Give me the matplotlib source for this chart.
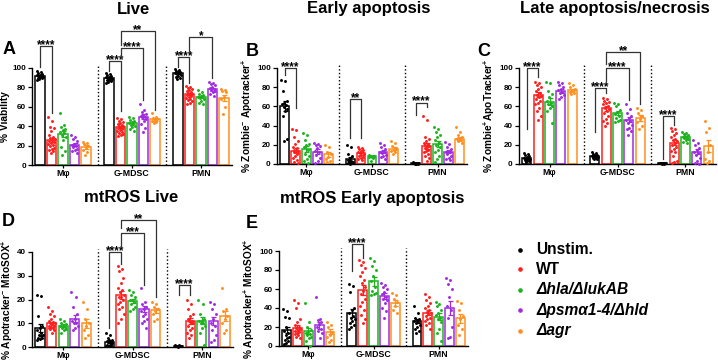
import numpy as np
import matplotlib
matplotlib.use('Agg')
import matplotlib.pyplot as plt
from matplotlib.lines import Line2D
from matplotlib.transforms import offset_copy

plt.rcParams['font.family'] = ['Liberation Sans', 'DejaVu Sans']
plt.rcParams['font.weight'] = 'bold'
plt.rcParams['mathtext.fontset'] = 'custom'
plt.rcParams['mathtext.rm'] = 'Liberation Sans:bold'
plt.rcParams['mathtext.it'] = 'Liberation Sans:bold:italic'
plt.rcParams['mathtext.bf'] = 'Liberation Sans:bold'
plt.rcParams['mathtext.default'] = 'rm'

groups = ['Mφ', 'G-MDSC', 'PMN']
conditions = ['Unstim.', 'WT', 'Δhla/ΔlukAB', 'Δpsmα1-4/Δhld', 'Δagr']
colors = ['#000000', '#FF1F1F', '#1DB31D', '#A12BE0', '#FF8F1F']

# ---------------- Panel A: Live ----------------
live_means = [[92, 26, 32, 21, 18.5], [90, 39, 43.5, 50, 47], [95, 73, 70, 78, 69]]
live_pts = [
    [[97, 96, 95, 94, 93, 93, 92, 92, 91, 91, 90, 90, 89, 88],
     [49, 45, 39, 38, 35, 31, 29, 28, 27, 26, 25, 24, 23, 22, 21, 20, 18, 17, 15, 14, 12],
     [54, 41, 39, 37, 36, 34, 33, 31, 29, 26, 19, 14, 10],
     [31, 29, 27, 25, 22, 21, 20, 19, 17, 15, 14, 12],
     [24, 23, 22, 20, 18, 15, 13, 10]],
    [[95, 94, 93, 92, 91, 91, 90, 90, 89, 88, 88, 87, 86, 85],
     [48, 47, 45, 44, 43, 42, 41, 40, 40, 39, 38, 37, 36, 35, 34, 33, 32, 31, 30],
     [50, 48, 46, 45, 44, 43, 42, 41, 40, 39, 37, 35],
     [63, 57, 55, 53, 52, 51, 50, 49, 47, 45, 42, 38, 34],
     [54, 50, 48, 47, 46, 45, 44, 43]],
    [[99, 98, 97, 96, 96, 95, 95, 94, 93, 92, 91, 90, 89],
     [81, 80, 79, 78, 77, 76, 75, 74, 73, 73, 72, 71, 70, 69, 68, 67, 66, 64, 63],
     [77, 75, 73, 72, 71, 70, 70, 69, 68, 66, 64, 63],
     [86, 85, 83, 82, 80, 79, 78, 77, 76, 75, 73, 71],
     [78, 77, 76, 75, 70, 68, 60, 53]],
]
live_sig = [(0, 0, 1, 123, 101, 54, '****'), (1, 0, 1, 107, 97, 56, '****'),
            (1, 1, 3, 121, 110, 67, '****'), (1, 1, 4, 138, 124, 57, '**'),
            (2, 0, 1, 111, 101, 85, '****'), (2, 1, 3, 132, 116, 90, '*')]

# ---------------- Panel B: Early apoptosis ----------------
early_means = [[60, 14, 16, 13, 10], [5, 11, 8, 13, 16], [1, 19, 21, 13, 26]]
early_pts = [
    [[87, 86, 76, 66, 64, 63, 61, 59, 57, 55, 50, 26, 24],
     [36, 35, 28, 24, 21, 18, 17, 15, 14, 13, 12, 10, 8, 6, 4, 2, 1],
     [32, 30, 25, 21, 20, 18, 15, 10, 8, 5, 3, 1],
     [22, 21, 20, 19, 17, 14, 12, 9, 6, 3, 1],
     [20, 18, 12, 10, 7, 5, 3, 2]],
    [[20, 18, 10, 8, 6, 4, 3, 2, 2, 1, 1, 1, 0.5],
     [18, 17, 16, 15, 14, 13, 12, 11, 10, 9, 8, 7, 6, 5, 4],
     [9, 8.5, 8, 8, 7.5, 7, 6, 3],
     [22, 20, 18, 16, 14, 13, 12, 11, 9, 8, 7, 5],
     [24, 22, 19, 17, 15, 14, 12, 10]],
    [[2, 1.5, 1.5, 1, 1, 1, 0.8, 0.5, 0.5, 0.5],
     [50, 46, 28, 26, 24, 22, 21, 20, 19, 18, 17, 15, 14, 12, 10, 8, 6, 3],
     [39, 36, 33, 30, 28, 25, 22, 20, 18, 15, 12, 8, 5, 2],
     [23, 21, 18, 16, 14, 13, 12, 10, 8, 6, 5, 4],
     [39, 33, 30, 28, 27, 26, 25, 24, 22]],
]
early_sig = [(0, 0, 1, 100, 93, 58, '****'), (1, 0, 1, 68, 27, 27, '**'),
             (2, 0, 1, 64, 51, 59, '****')]

# ---------------- Panel C: Late apoptosis/necrosis ----------------
late_means = [[6, 72, 65, 76, 77], [8, 58, 53, 46, 48], [1, 22, 28, 13, 19]]
late_pts = [
    [[11, 10, 9, 8, 7, 6, 6, 5, 5, 4, 4, 3, 2],
     [85, 84, 82, 80, 78, 76, 74, 72, 71, 70, 68, 66, 64, 62, 58, 55, 50, 46],
     [85, 84, 76, 73, 70, 66, 64, 62, 60, 58, 55, 43],
     [85, 84, 82, 80, 78, 77, 75, 74, 72, 70, 68],
     [84, 82, 80, 78, 76, 75, 74, 73]],
    [[12, 11, 10, 9, 9, 8, 8, 7, 7, 6, 6, 5, 5],
     [69, 68, 66, 65, 64, 62, 60, 58, 57, 55, 53, 50, 47, 45, 43, 40],
     [64, 62, 60, 56, 54, 52, 50, 48, 46, 45, 44],
     [63, 57, 53, 50, 48, 46, 45, 43, 41, 38, 36, 34, 30],
     [58, 56, 53, 50, 47, 44, 40, 36]],
    [[1.5, 1.2, 1, 1, 0.8, 0.6, 0.5, 0.5],
     [38, 36, 34, 32, 30, 28, 26, 25, 24, 22, 20, 18, 16, 14, 12, 8, 3, 2, 1],
     [33, 32, 31, 30, 29, 28, 27, 27, 26, 25, 23, 22],
     [25, 22, 20, 17, 15, 13, 11, 9, 6, 3, 1, 0.5],
     [45, 38, 33, 20, 12, 5, 3, 1]],
]
late_sig = [(0, 0, 1, 100, 36, 91, '****'), (1, 0, 1, 79, 33, 74, '****'),
            (1, 1, 3, 100, 86, 67, '****'), (1, 1, 4, 117, 104, 62, '**'),
            (2, 0, 1, 50, 5, 41, '****')]

# ---------------- Panel D: mtROS Live ----------------
mtlive_means = [[8, 10, 9, 12, 10], [2, 22, 19.5, 16, 15.5], [0.5, 11, 11, 11, 13]]
mtlive_pts = [
    [[22, 21.5, 13, 9, 8, 7, 6, 5, 5, 4.5, 4, 4, 3.5, 3],
     [17, 15, 14, 13, 12, 11, 10.5, 10, 10, 9.5, 9, 9, 8.5, 8, 8, 7.5, 7, 6],
     [12, 11, 10, 9.5, 9, 9, 8.5, 8, 7.5, 7, 6],
     [23, 21, 17, 14, 12, 11, 10, 10, 9, 8, 7],
     [19, 16, 12, 10, 9, 7, 5, 4]],
    [[6, 5, 4, 3, 3, 2.5, 2, 2, 1.5, 1.5, 1, 1, 0.5, 0.5, 0.3],
     [34, 33, 32, 29, 27, 25, 24, 23, 22, 21, 21, 20, 19, 18, 17, 16, 14, 12, 10],
     [24, 23, 22, 21, 20, 20, 19, 18, 17, 16, 15],
     [25, 19, 18, 17, 16, 15, 14, 13, 12, 11, 10, 8],
     [19, 18, 17, 16, 15, 14, 12, 11]],
    [[0.8, 0.7, 0.6, 0.5, 0.4, 0.3, 0.3, 0.2],
     [20, 18, 16, 14, 13, 12, 11, 11, 10, 10, 9, 8, 7, 6, 5, 4],
     [20, 18, 14, 12, 11, 11, 10, 10, 9, 8, 6, 1],
     [19, 18, 16, 14, 12, 10, 9, 7, 5, 3, 2],
     [25, 16, 15, 13, 12, 10, 7, 6]],
]
mtlive_sig = [(1, 0, 1, 40, 8, 35, '****'), (1, 1, 3, 48, 42, 26, '***'),
              (1, 1, 4, 53.5, 50, 21, '**'), (2, 0, 1, 26, 22, 22, '****')]

# ---------------- Panel E: mtROS Early apoptosis ----------------
mtearly_means = [[17, 19, 16, 22, 15], [35, 59, 68, 53, 45], [26, 35, 31, 40, 29]]
mtearly_pts = [
    [[39, 37, 31, 30, 20, 16, 14, 12, 10, 8, 6, 5, 3, 2],
     [48, 45, 40, 28, 25, 22, 20, 19, 18, 17, 16, 15, 14, 13, 12, 10, 8],
     [45, 25, 20, 17, 15, 14, 13, 12, 10, 8, 5, 0],
     [52, 28, 27, 25, 23, 20, 18, 16, 14, 8],
     [25, 22, 20, 15, 12, 10, 6, 4]],
    [[65, 63, 57, 40, 38, 35, 32, 30, 28, 26, 24, 22, 20, 18],
     [91, 88, 85, 82, 78, 74, 70, 66, 62, 58, 55, 50, 46, 42, 38, 33, 28, 24],
     [93, 90, 84, 80, 74, 68, 62, 58, 56, 55, 54],
     [66, 64, 62, 60, 57, 55, 52, 50, 48, 45, 40, 37, 30],
     [56, 54, 50, 46, 42, 38, 35]],
    [[42, 35, 30, 28, 27, 26, 25, 24, 22, 20, 18, 16, 14],
     [55, 52, 48, 45, 42, 40, 38, 36, 35, 34, 32, 30, 28, 26, 24, 22, 18],
     [46, 44, 42, 38, 35, 33, 30, 28, 25, 18, 14, 5],
     [72, 70, 65, 60, 52, 42, 38, 30, 20, 10, 8],
     [47, 45, 38, 32, 28, 22, 18, 12]],
]
mtearly_sig = [(1, 0, 1, 107, 79, 93, '****')]

W, H = 718, 361
fig = plt.figure(figsize=(W / 100, H / 100), dpi=100)


def rect(l, b_px, w, h):
    return [l / W, (H - b_px) / H, w / W, h / H]


def draw_panel(ax, means, pts, ymax, yticks, ylabel, sig):
    for g in range(3):
        for c in range(5):
            x = g * 6 + c
            col = colors[c]
            vals = np.array(pts[g][c], float)
            m = means[g][c]
            sem = vals.std(ddof=1) / np.sqrt(len(vals))
            ax.bar(x, m, width=0.8, facecolor='white', edgecolor=col,
                   linewidth=1.1, zorder=2)
            n = len(vals)
            offs = ((np.arange(n) * 0.618034) % 1 - 0.5) * 0.58
            ax.scatter(x + offs, vals, s=4.5, color=col, zorder=3, linewidths=0,
                       clip_on=False)
            ax.errorbar(x, m, yerr=sem, color=col, capsize=1.8, elinewidth=0.9,
                        capthick=0.9, zorder=4)
    for xd in (5, 11):
        ax.plot([xd, xd], [0, ymax * 1.03], color='black', lw=1.0,
                ls=(0, (1, 1.6)), clip_on=False, zorder=1)
    tr = offset_copy(ax.transData, fig=fig, y=-1.5, units='points')
    for (g, i1, i2, top, lb, rb, lab) in sig:
        x1 = g * 6 + i1
        x2 = g * 6 + i2
        ax.plot([x1, x1, x2, x2], [lb, top, top, rb], color='#333333',
                lw=0.9, clip_on=False, zorder=5)
        ax.text((x1 + x2) / 2, top, lab, ha='center', va='baseline',
                fontsize=8.5, fontweight='bold', transform=tr, clip_on=False)
    ax.set_xlim(-0.7, 16.7)
    ax.set_ylim(0, ymax)
    ax.set_yticks(yticks)
    ax.set_xticks([2, 8, 14])
    ax.set_xticklabels(groups, fontsize=6.3, fontweight='bold')
    ax.tick_params(axis='y', labelsize=5.8, length=3, width=0.9, pad=1.5)
    ax.tick_params(axis='x', length=2, width=0.9, pad=1.2)
    for lbl in ax.get_yticklabels():
        lbl.set_fontweight('bold')
    for s in ('top', 'right'):
        ax.spines[s].set_visible(False)
    for s in ('left', 'bottom'):
        ax.spines[s].set_linewidth(1.0)
    ax.set_ylabel(ylabel, fontsize=7.3, fontweight='bold', labelpad=1.5)
    ax.patch.set_alpha(0)


axA = fig.add_axes(rect(32, 165, 200, 97))
draw_panel(axA, live_means, live_pts, 100, [0, 20, 40, 60, 80, 100], '% Viability', live_sig)
axB = fig.add_axes(rect(277, 164, 190, 96))
draw_panel(axB, early_means, early_pts, 100, [0, 20, 40, 60, 80, 100],
           r'% Zombie$^{-}$ Apotracker$^{+}$', early_sig)
axC = fig.add_axes(rect(519, 164, 197, 96))
draw_panel(axC, late_means, late_pts, 100, [0, 20, 40, 60, 80, 100],
           r'% Zombie$^{+}$ApoTracker$^{+}$', late_sig)
axD = fig.add_axes(rect(32, 347, 201, 95))
draw_panel(axD, mtlive_means, mtlive_pts, 40, [0, 10, 20, 30, 40],
           r'% Apotracker$^{-}$ MitoSOX$^{+}$', mtlive_sig)
axE = fig.add_axes(rect(279, 346, 189, 95))
draw_panel(axE, mtearly_means, mtearly_pts, 100, [0, 20, 40, 60, 80, 100],
           r'% Apotracker$^{+}$ MitoSOX$^{+}$', mtearly_sig)

# titles
titles = [('Live', 133, 9), ('Early apoptosis', 369, 9), ('Late apoptosis/necrosis', 615, 9),
          ('mtROS Live', 131, 198), ('mtROS Early apoptosis', 372, 199)]
for t, xp, yp in titles:
    fig.text(xp / W, 1 - yp / H, t, ha='center', va='center', fontsize=12,
             fontweight='bold')

letters = [('A', 9, 50), ('B', 252, 52), ('C', 484, 52), ('D', 8, 222), ('E', 252, 223)]
for t, xp, yp in letters:
    fig.text(xp / W, 1 - yp / H, t, ha='center', va='center', fontsize=13,
             fontweight='bold')

# legend
leg_y = [250, 269, 290, 310, 331]
for i, (lab, col) in enumerate(zip(conditions, colors)):
    y = 1 - leg_y[i] / H
    fig.add_artist(Line2D([520 / W], [y], marker='o', markersize=2.3, color=col,
                          lw=0, transform=fig.transFigure))
    fig.text(536 / W, y, lab, ha='left', va='center', fontsize=11.2,
             fontweight='bold', fontstyle='italic' if i >= 2 else 'normal')

fig.savefig('out.png', dpi=100)
